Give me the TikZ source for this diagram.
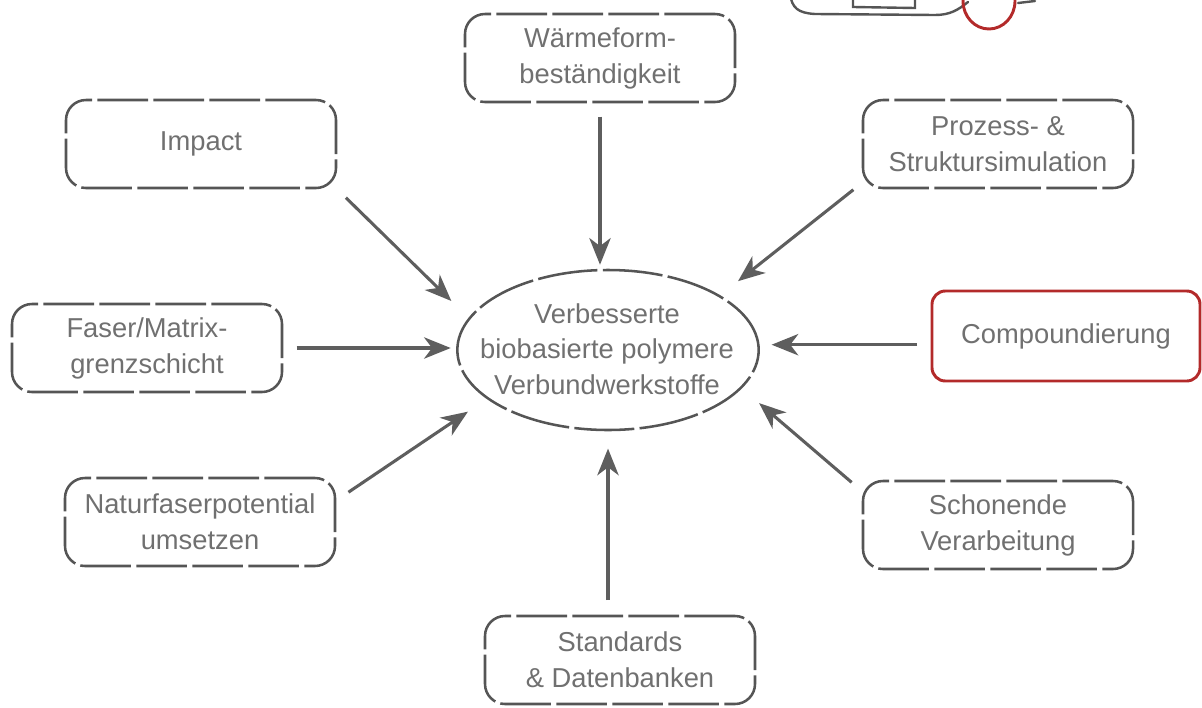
\documentclass[tikz,border=0pt]{standalone}
\usepackage{fontspec}
\setmainfont{Liberation Sans}
\usetikzlibrary{shapes.geometric,arrows.meta}
\definecolor{inkgray}{HTML}{555555}
\definecolor{textgray}{HTML}{707070}
\definecolor{arrowgray}{HTML}{5E5E5E}
\definecolor{markred}{HTML}{B32A2A}
\begin{document}
\begin{tikzpicture}[x=0.75pt,y=-0.75pt,
  label text/.style={text=textgray, align=center, font=\fontsize{20.5}{27}\selectfont},
  sketchbox/.style={label text, draw=inkgray, line width=1.9pt,
    dash pattern=on 38pt off 4pt, rounded corners=15pt,
    minimum width=202.5pt, minimum height=66pt, inner sep=0pt},
  redbox/.style={label text, draw=markred, line width=2.2pt, rounded corners=10pt,
    minimum width=201pt, minimum height=67.5pt, inner sep=0pt},
  arr/.style={draw=arrowgray, line width=2.3pt,
    -{Stealth[length=20pt, width=16pt, inset=6pt]}},
]
\useasboundingbox (0,0) rectangle (1202,707);
\clip (0,0) rectangle (1202,707);

% partly visible box at the upper edge
\begin{scope}[inkgray, line width=1.8pt, line cap=round]
  \draw (790,-6) .. controls (792,8) and (798,13) .. (815,14) -- (935,15)
        .. controls (950,15) and (958,10) .. (968,2);
  \draw (853,-6) -- (853,7) -- (915,8) -- (915,-6);
  \draw (1018,3) -- (1035,1);
\end{scope}
\draw[markred, line width=2.2pt] (989,1) ellipse [x radius=19.5pt, y radius=21pt];

% central topic
\node[ellipse, draw=inkgray, line width=1.9pt, dash pattern=on 45pt off 4pt,
      minimum width=226pt, minimum height=120pt, inner sep=0pt] (hub) at (608,350) {};
\node[label text, font=\fontsize{20.5}{26.5}\selectfont] (hubtext) at (607,349)
  {Verbesserte\\biobasierte polymere\\Verbundwerkstoffe};

% surrounding topics
\node[sketchbox] (waerme)  at (600,58)   {Wärmeform-\\beständigkeit};
\node[sketchbox] (impact)  at (201,144)  {Impact};
\node[sketchbox] (prozess) at (998,144)  {Prozess- \&\\Struktursimulation};
\node[sketchbox] (faser)   at (147,348)  {Faser/Matrix-\\grenzschicht};
\node[redbox]    (comp)    at (1066,336) {Compoundierung};
\node[sketchbox] (natur)   at (200,522)  {Naturfaserpotential\\umsetzen};
\node[sketchbox] (schon)   at (998,525)  {Schonende\\Verarbeitung};
\node[sketchbox] (std)     at (620,660)  {Standards\\\& Datenbanken};

% arrows towards the centre
\draw[arr, shorten <=10pt, shorten >=3pt]  (waerme.south) -- (waerme.south |- hub.north);
\draw[arr, shorten <=9pt,  shorten >=18pt] (impact.south east) -- (hub.167);
\draw[arr, shorten <=8pt,  shorten >=17pt] (prozess.196) -- (hub.26);
\draw[arr, shorten <=10pt, shorten >=4pt]  (faser.east) -- (faser.east -| hub.west);
\draw[arr, shorten <=10pt, shorten >=9pt]  (comp.west |- hub.2) -- (hub.2);
\draw[arr, shorten <=11pt, shorten >=17pt] (natur.9) -- (hub.202);
\draw[arr, shorten <=10pt, shorten >=17pt] (schon.166) -- (hub.344);
\draw[arr, shorten <=11pt, shorten >=13pt] (std.north -| hub.south) -- (hub.south);
\end{tikzpicture}
\end{document}
